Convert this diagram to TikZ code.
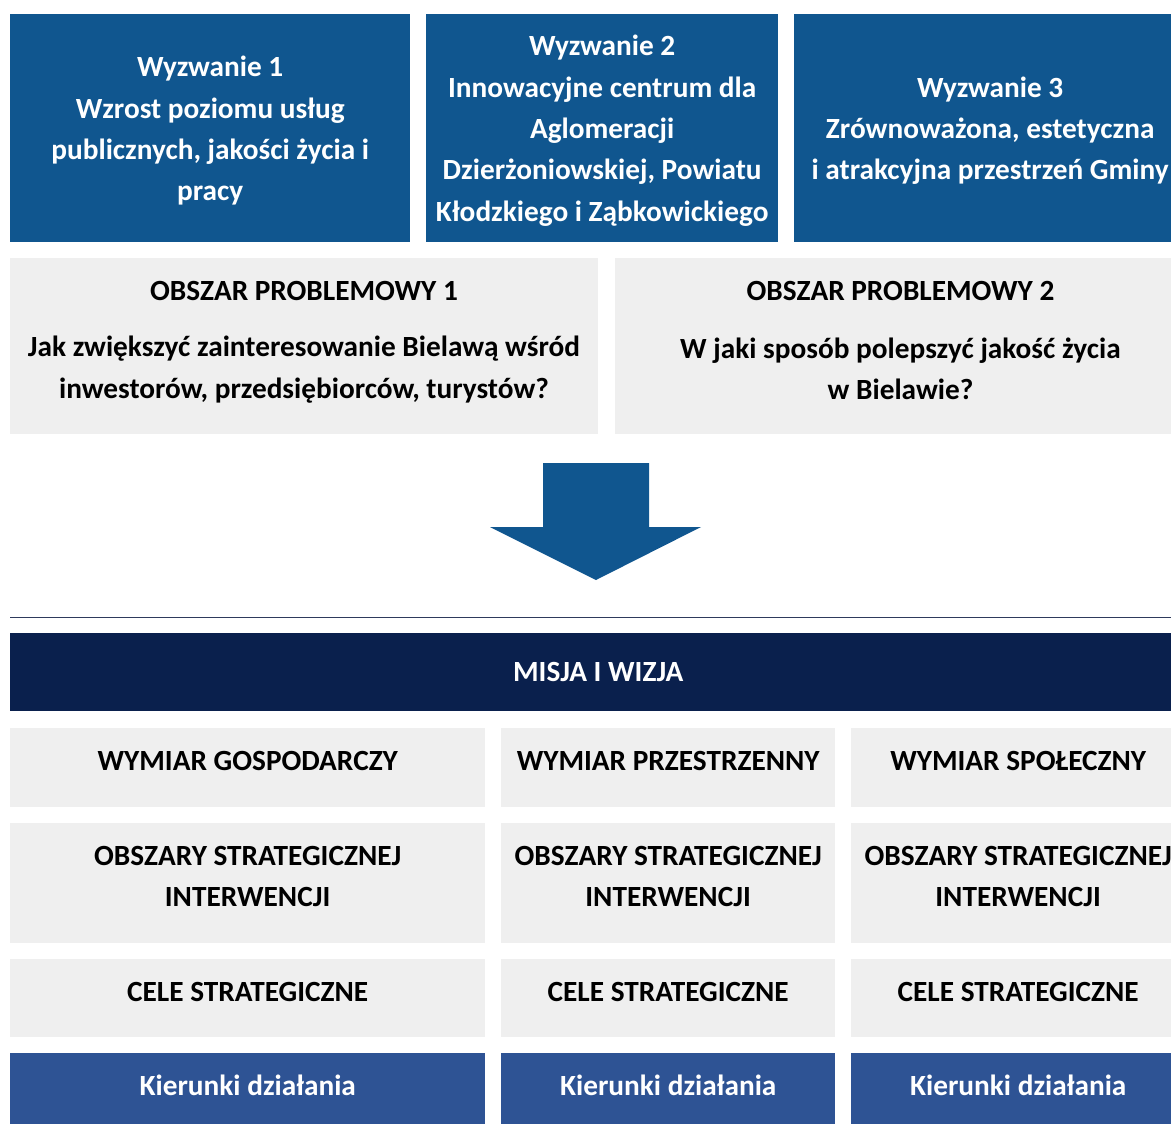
\documentclass[tikz,border=0pt]{standalone}
\usepackage{fontspec}
\setmainfont{Carlito}
\usetikzlibrary{positioning}
\definecolor{chalblue}{HTML}{10568F}
\definecolor{misnavy}{HTML}{0A204D}
\definecolor{actblue}{HTML}{2E5394}
\definecolor{panelgrey}{HTML}{EFEFEF}
\definecolor{rulenavy}{HTML}{2E3A5C}

\begin{document}
\begin{tikzpicture}[x=1pt,y=-1pt,
 txt/.style={font=\bfseries\fontsize{29.3}{41.3}\selectfont,align=center,inner sep=0pt},
 chal/.style={fill=chalblue,anchor=north west,inner sep=0pt,minimum height=228pt},
 prob/.style={fill=panelgrey,anchor=north west,inner sep=0pt,minimum height=176pt},
 mis/.style={txt,fill=misnavy,text=white,anchor=north west,minimum height=78pt},
 cell/.style={fill=panelgrey,anchor=north west,inner sep=0pt},
 act/.style={cell,fill=actblue},
 hd/.style={txt,text=black},
 wt/.style={txt,text=white}]
\useasboundingbox (0,0) rectangle (1171,1124);
\clip (0,0) rectangle (1171,1124);
% wyzwania
\node[chal,minimum width=400pt] (ch1) at (10,14) {};
\node[chal,minimum width=352pt] (ch2) at (426,14) {};
\node[chal,minimum width=392pt] (ch3) at (794,14) {};
\node[wt] (ch1t) at ([yshift=-2.5pt]ch1.center) {Wyzwanie 1\\Wzrost poziomu usług\\publicznych, jakości życia i\\pracy};
\node[wt] (ch2t) at ([yshift=-2.5pt]ch2.center) {Wyzwanie 2\\Innowacyjne centrum dla\\Aglomeracji\\Dzierżoniowskiej, Powiatu\\Kłodzkiego i Ząbkowickiego};
\node[wt] (ch3t) at ([yshift=-2.5pt]ch3.center) {Wyzwanie 3\\Zrównoważona, estetyczna\\i atrakcyjna przestrzeń Gminy};
% obszary problemowe
\node[prob,minimum width=588pt] (pa) at (10,258) {};
\node[prob,minimum width=571pt] (pb) at (615,258) {};
\node[hd] (pat) at (304,291) {OBSZAR PROBLEMOWY 1};
\node[hd] (paq) at (304,369.5) {Jak zwiększyć zainteresowanie Bielawą wśród\\inwestorów, przedsiębiorców, turystów?};
\node[hd] (pbt) at (900.5,291) {OBSZAR PROBLEMOWY 2};
\node[hd] (pbq) at (900.5,368.5) {W jaki sposób polepszyć jakość życia\\w Bielawie?};
% strzalka
\fill[chalblue] (543,463) -- (649,463) -- (649,527) -- (701,527) -- (596,580)
  -- (490,527) -- (543,527) -- cycle;
\draw[rulenavy,line width=1pt] (10,617) -- (1171,617);
% misja
\node[mis,minimum width=1176pt] (mis) at (10,633) {MISJA I WIZJA};
% wymiary
\foreach \l/\d/\n/\w in {10/475/g/GOSPODARCZY,501/334/p/PRZESTRZENNY,851/334/s/SPOŁECZNY} {
  \node[cell,minimum width=\d pt,minimum height=79pt] (w\n) at (\l,728) {};
  \node[cell,minimum width=\d pt,minimum height=120pt] (o\n) at (\l,823) {};
  \node[cell,minimum width=\d pt,minimum height=78pt] (c\n) at (\l,959) {};
  \node[act,minimum width=\d pt,minimum height=78pt] (k\n) at (\l,1053) {};
  \node[hd] at ([yshift=6.5pt]w\n.center) {WYMIAR \w};
  \node[hd] at ([yshift=6.5pt]o\n.center) {OBSZARY STRATEGICZNEJ\\INTERWENCJI};
  \node[hd] at ([yshift=6pt]c\n.center) {CELE STRATEGICZNE};
  \node[wt] at ([yshift=7pt]k\n.center) {Kierunki działania};
}
\end{tikzpicture}
\end{document}
